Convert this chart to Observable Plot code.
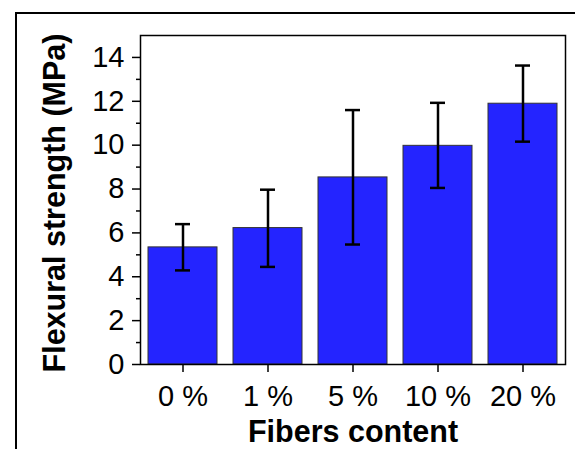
<!DOCTYPE html>
<html>
<head>
<meta charset="utf-8">
<script src="https://cdn.jsdelivr.net/npm/d3@7"></script>
<script src="https://cdn.jsdelivr.net/npm/@observablehq/plot@0.6"></script>
<style>
  html, body { margin: 0; padding: 0; background: white; }
  #wrap { position: relative; width: 575px; height: 449px; overflow: hidden; }
  #outer { position: absolute; left: 15px; top: 12px; width: 700px; height: 600px;
           border-left: 2px solid black; border-top: 2px solid black; box-sizing: border-box; pointer-events: none; }
  #chart { position: absolute; left: 0; top: 0; }
</style>
</head>
<body>
<div id="wrap"><div id="chart"></div><div id="outer"></div></div>
<script>
const categories = ["0 %", "1 %", "5 %", "10 %", "20 %"];
const means = [5.34, 6.22, 8.53, 9.97, 11.89];
const errLow = [4.29, 4.45, 5.47, 8.05, 10.16];
const errHigh = [6.40, 7.97, 11.60, 11.93, 13.63];
const yMajorTicks = [0, 2, 4, 6, 8, 10, 12, 14];
const yMinorTicks = [1, 3, 5, 7, 9, 11, 13];
const xLabel = "Fibers content";
const yLabel = "Flexural strength (MPa)";

const data = categories.map((c, i) => ({cat: c, mean: means[i], lo: errLow[i], hi: errHigh[i]}));

const chart = Plot.plot({
  width: 575,
  height: 449,
  marginLeft: 140,
  marginRight: 10,
  marginTop: 35,
  marginBottom: 85,
  x: {domain: categories, padding: 0, label: null},
  y: {domain: [0, 15], label: null},
  style: {fontFamily: "'Liberation Sans', Arial, sans-serif", fontSize: "29px", color: "black", background: "white", overflow: "visible"},
  marks: [
    Plot.barY(data, {x: "cat", y: "mean", fill: "#2424ff", stroke: "#333", strokeWidth: 1, insetLeft: 8, insetRight: 8}),
    Plot.ruleX(data, {x: "cat", y1: "lo", y2: "hi", stroke: "black", strokeWidth: 2.5}),
    Plot.tickY(data, {x: "cat", y: "lo", stroke: "black", strokeWidth: 2.5, insetLeft: 35, insetRight: 35}),
    Plot.tickY(data, {x: "cat", y: "hi", stroke: "black", strokeWidth: 2.5, insetLeft: 35, insetRight: 35}),
    Plot.frame({stroke: "black", strokeWidth: 1.5}),
    Plot.axisY({ticks: yMajorTicks, tickSize: 8, tickPadding: 8, fontSize: 29, label: null, strokeWidth: 1.5}),
    Plot.axisY({ticks: yMinorTicks, tickSize: 4, tickFormat: () => "", label: null, strokeWidth: 1.5}),
    Plot.axisX({tickSize: 8, tickPadding: 13, fontSize: 29, label: null, strokeWidth: 1.5}),
    Plot.text([yLabel], {text: d => d, frameAnchor: "left", textAnchor: "middle", dx: -85, dy: 3, rotate: -90, fontWeight: "bold", fontSize: 30.5, fill: "black"}),
    Plot.text([xLabel], {text: d => d, frameAnchor: "bottom", textAnchor: "middle", dy: 77, fontWeight: "bold", fontSize: 30.5, fill: "black"})
  ]
});
document.getElementById("chart").appendChild(chart);
</script>
</body>
</html>
